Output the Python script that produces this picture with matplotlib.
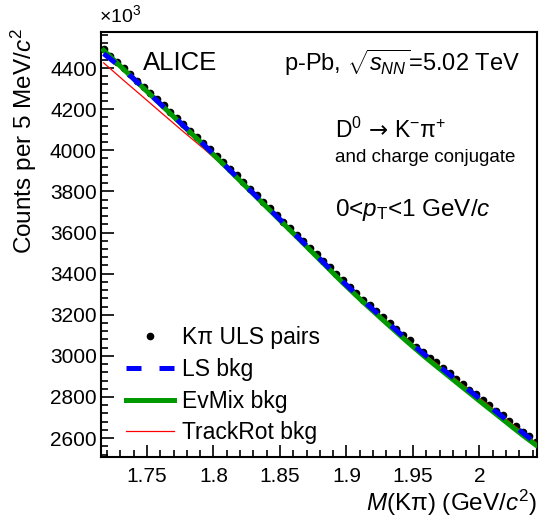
import matplotlib
matplotlib.use("Agg")
import matplotlib.pyplot as plt
from matplotlib.lines import Line2D
from matplotlib.ticker import MultipleLocator

plt.rcParams['font.family'] = ['Liberation Sans', 'DejaVu Sans']
plt.rcParams['mathtext.fontset'] = 'custom'
plt.rcParams['mathtext.rm'] = 'Liberation Sans'
plt.rcParams['mathtext.it'] = 'Liberation Sans:italic'
plt.rcParams['mathtext.bf'] = 'Liberation Sans:bold'
plt.rcParams['mathtext.sf'] = 'DejaVu Sans'

# invariant mass bin centres (GeV/c^2), 5 MeV bins
mass = [1.7175, 1.7225, 1.7275, 1.7325, 1.7375, 1.7425, 1.7475, 1.7525, 1.7575, 1.7625,
        1.7675, 1.7725, 1.7775, 1.7825, 1.7875, 1.7925, 1.7975, 1.8025, 1.8075, 1.8125,
        1.8175, 1.8225, 1.8275, 1.8325, 1.8375, 1.8425, 1.8475, 1.8525, 1.8575, 1.8625,
        1.8675, 1.8725, 1.8775, 1.8825, 1.8875, 1.8925, 1.8975, 1.9025, 1.9075, 1.9125,
        1.9175, 1.9225, 1.9275, 1.9325, 1.9375, 1.9425, 1.9475, 1.9525, 1.9575, 1.9625,
        1.9675, 1.9725, 1.9775, 1.9825, 1.9875, 1.9925, 1.9975, 2.0025, 2.0075, 2.0125,
        2.0175, 2.0225, 2.0275, 2.0325, 2.0375, 2.0425]
# unlike-sign K pi pairs (x10^3 counts)
uls = [4492, 4460, 4431, 4401, 4369, 4339, 4310, 4278, 4247, 4218,
       4187, 4155, 4126, 4096, 4064, 4035, 4005, 3972, 3942, 3908,
       3878, 3845, 3812, 3782, 3749, 3718, 3686, 3653, 3623, 3589,
       3559, 3525, 3495, 3461, 3431, 3397, 3367, 3334, 3306, 3274,
       3247, 3216, 3189, 3158, 3132, 3101, 3075, 3045, 3020, 2992,
       2968, 2940, 2916, 2888, 2864, 2836, 2813, 2785, 2761, 2734,
       2710, 2683, 2659, 2631, 2608, 2582]

# background estimates, every third bin
mass_bkg = [1.7175, 1.7325, 1.7475, 1.7625, 1.7775, 1.7925, 1.8075, 1.8225, 1.8375, 1.8525,
            1.8675, 1.8825, 1.8975, 1.9125, 1.9275, 1.9425, 1.9575, 1.9725, 1.9875, 2.0025,
            2.0175, 2.0325, 2.0425]
ls_bkg = [4470, 4393, 4303, 4211, 4120, 4029, 3935, 3839, 3743, 3648,
          3552, 3456, 3360, 3269, 3182, 3096, 3013, 2935, 2857, 2780,
          2703, 2626, 2576]
evmix_bkg = [4486, 4394, 4302, 4210, 4118, 4027, 3932, 3836, 3740, 3644,
             3548, 3451, 3354, 3262, 3174, 3087, 3003, 2924, 2846, 2768,
             2691, 2614, 2566]
trackrot_bkg = [4425, 4340, 4257, 4173, 4090, 4009, 3924, 3834, 3741, 3648,
                3554, 3458, 3362, 3271, 3184, 3098, 3015, 2937, 2859, 2782,
                2705, 2628, 2578]

blue = '#0000ff'
green = '#009900'
red = '#ff0000'

fig = plt.figure(figsize=(5.39, 5.21), dpi=100)
ax = fig.add_axes([0.1874, 0.1228, 0.809, 0.8157])

ax.plot(mass, uls, 'o', color='black', markersize=4.5, zorder=2)
ax.plot(mass_bkg, trackrot_bkg, color=red, lw=0.9, zorder=3)
ax.plot(mass_bkg, evmix_bkg, color=green, lw=3.6, zorder=4)
ax.plot(mass_bkg, ls_bkg, color=blue, lw=3.6, dashes=(3, 3.6), zorder=5)

ax.set_xlim(1.7155, 2.0433)
ax.set_ylim(2508, 4575)

ax.xaxis.set_major_locator(MultipleLocator(0.05))
ax.xaxis.set_minor_locator(MultipleLocator(0.01))
ax.yaxis.set_major_locator(MultipleLocator(200))
ax.yaxis.set_minor_locator(MultipleLocator(40))
ax.set_xticks([1.75, 1.8, 1.85, 1.9, 1.95, 2.0])
ax.set_xticklabels(['1.75', '1.8', '1.85', '1.9', '1.95', '2'])
ax.tick_params(which='both', direction='in', top=False, right=False, labelsize=15, width=1.2)
ax.tick_params(which='major', length=9)
ax.tick_params(which='minor', length=5)
ax.tick_params(axis='x', pad=7)
ax.tick_params(axis='y', pad=3)
for s in ax.spines.values():
    s.set_linewidth(1.5)

fig.text(0.184, 0.95, r'$\times$10$^{\mathregular{3}}$', fontsize=14, ha='left', va='bottom')
fig.text(0.044, 1 - 28 / 521, r'Counts per 5 MeV/$c^{\mathregular{2}}$', rotation=90,
         fontsize=17.5, ha='center', va='top')
fig.text(0.996, 0.035, r'$M$(Kπ) (GeV/$c^{\mathregular{2}}$)', fontsize=17.5, ha='right', va='center')

ax.text(0.096, 0.927, 'ALICE', transform=ax.transAxes, fontsize=18.5, va='center')
ax.text(0.961, 0.927, r'p-Pb, $\sqrt{s_{NN}}$=5.02 TeV', transform=ax.transAxes,
        fontsize=17, ha='right', va='center')
ax.text(0.537, 0.769, r'D$^{\mathregular{0}}\,\mathsf{\rightarrow}\,$K$^{\mathregular{-}}$π$^{\mathregular{+}}$',
        transform=ax.transAxes, fontsize=16.5, va='center')
ax.text(0.537, 0.704, 'and charge conjugate', transform=ax.transAxes, fontsize=13.5, va='center')
ax.text(0.537, 0.581, r'0<$p_{\mathregular{T}}$<1 GeV/$c$', transform=ax.transAxes,
        fontsize=17.5, va='center')

handles = [Line2D([], [], ls='none', marker='o', color='black', markersize=4.5),
           Line2D([], [], color=blue, lw=3.6, dashes=(3, 3.6)),
           Line2D([], [], color=green, lw=3.6),
           Line2D([], [], color=red, lw=0.9)]
labels = ['Kπ ULS pairs', 'LS bkg', 'EvMix bkg', 'TrackRot bkg']
ax.legend(handles, labels, loc='upper left', bbox_to_anchor=(0.2338, 0.374),
          bbox_transform=fig.transFigure, frameon=False, fontsize=16.5,
          handlelength=2.1, handletextpad=0.35, labelspacing=0.38,
          borderpad=0, borderaxespad=0)

fig.savefig('out.png', dpi=100)
